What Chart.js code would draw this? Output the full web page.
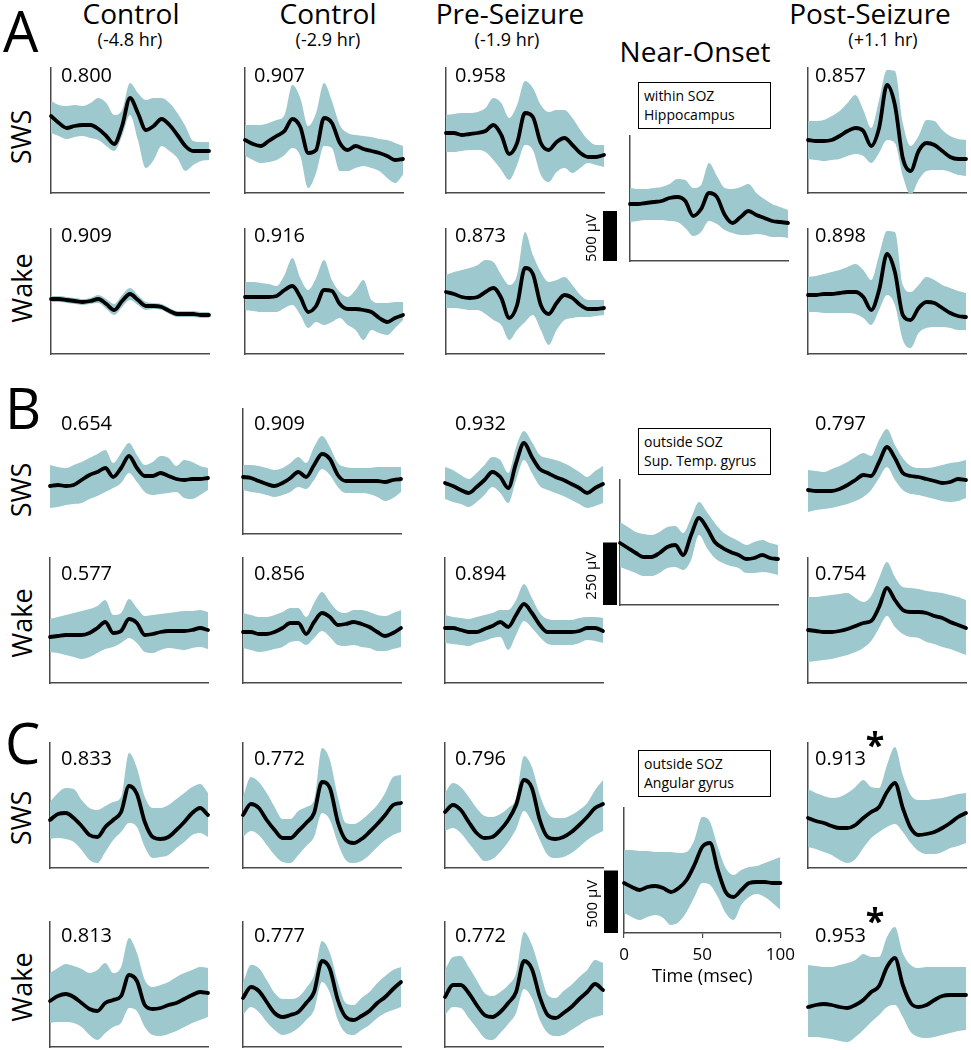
<!DOCTYPE html>
<html><head><meta charset="utf-8">
<script src="https://cdn.jsdelivr.net/npm/chart.js@4/dist/chart.umd.min.js"></script>
<style>
html,body{margin:0;padding:0;background:#fff;}
#fig{position:relative;width:971px;height:1050px;overflow:hidden;font-family:"Open Sans",sans-serif;color:#000;}
#fig canvas{position:absolute;}
.t{position:absolute;line-height:1;white-space:nowrap;}
.box{position:absolute;border:1.5px solid #000;box-sizing:border-box;background:#fff;}
</style></head><body><div id="fig"></div>
<script>
// ---------------- DATA ----------------
const TIME_MS = [0,5,10,15,20,25,30,35,40,45,50,55,60,65,70,75,80,85,90,95,100];

const COLUMN_TITLES = ['Control','Control','Pre-Seizure','Near-Onset','Post-Seizure'];
const COLUMN_SUBTITLES = ['(-4.8 hr)','(-2.9 hr)','(-1.9 hr)','','(+1.1 hr)'];
const SECTION_LETTERS = ['A','B','C'];
const ROW_LABELS = ['SWS','Wake'];
const ONSET_BOX_LINES = [['within SOZ','Hippocampus'],['outside SOZ','Sup. Temp. gyrus'],['outside SOZ','Angular gyrus']];
const SCALE_BAR_UV = [500,250,500];
const X_TICKS_MS = [0,50,100];
const X_AXIS_TITLE = 'Time (msec)';

const CORR_A_SWS  = ['0.800','0.907','0.958','0.857'];
const CORR_A_WAKE = ['0.909','0.916','0.873','0.898'];
const CORR_B_SWS  = ['0.654','0.909','0.932','0.797'];
const CORR_B_WAKE = ['0.577','0.856','0.894','0.754'];
const CORR_C_SWS  = ['0.833','0.772','0.796','0.913'];
const CORR_C_WAKE = ['0.813','0.777','0.772','0.953'];

// Section A (uV)
const A_SWS_1_MEAN = [770,700,650,670,680,680,640,570,490,670,950,800,630,670,740,680,580,470,420,420,420];
const A_SWS_1_HI   = [920,880,870,880,870,900,950,900,780,830,1100,1000,930,950,950,900,800,670,520,510,510];
const A_SWS_1_LO   = [600,570,540,560,570,550,530,470,420,570,780,530,250,330,470,420,350,220,280,320,330];
const A_SWS_2_MEAN = [530,490,470,520,570,620,740,660,400,430,750,700,500,430,470,440,420,400,370,330,340];
const A_SWS_2_HI   = [680,680,680,700,730,780,1080,950,670,800,1100,920,680,600,580,570,560,540,530,500,470];
const A_SWS_2_LO   = [370,330,300,310,330,380,450,370,50,200,470,450,220,220,250,270,250,220,150,100,180];
const A_SWS_3_MEAN = [600,600,580,590,600,620,680,580,390,500,800,760,500,430,510,550,480,400,360,360,380];
const A_SWS_3_HI   = [780,790,800,800,810,850,950,900,750,880,1120,1050,880,810,830,830,750,630,530,480,480];
const A_SWS_3_LO   = [410,410,420,430,430,410,330,230,130,280,480,430,180,110,210,250,200,250,300,280,260];
const A_ONSET_MEAN = [570,570,580,590,600,630,640,600,450,520,680,640,460,380,440,500,460,430,400,390,380];
const A_ONSET_HI   = [730,720,720,730,740,770,820,810,730,760,980,850,730,720,740,770,680,620,570,540,510];
const A_ONSET_LO   = [390,400,410,410,410,400,390,330,250,290,400,370,310,280,260,260,270,260,240,240,230];
const A_SWS_5_MEAN = [530,520,520,530,570,620,650,620,470,650,1080,880,350,220,420,500,480,420,360,340,340];
const A_SWS_5_HI   = [720,720,730,770,820,900,980,830,650,930,1230,1220,700,470,570,730,720,630,570,540,530];
const A_SWS_5_LO   = [340,330,320,330,340,370,390,370,300,400,530,500,170,-20,130,220,230,230,210,180,170];
const A_WAKE_1_MEAN = [550,550,540,530,520,530,550,500,440,530,600,540,480,480,470,430,400,400,400,390,390];
const A_WAKE_1_HI   = [580,580,570,560,550,560,590,550,500,590,660,590,520,510,500,460,430,430,430,420,420];
const A_WAKE_1_LO   = [520,520,510,500,490,500,510,450,390,470,540,490,440,450,440,400,370,370,370,360,360];
const A_WAKE_2_MEAN = [570,570,570,570,580,640,680,570,420,480,640,630,500,450,450,440,420,360,320,360,390];
const A_WAKE_2_HI   = [720,720,710,700,680,790,960,760,640,760,940,740,620,570,640,740,540,510,510,520,520];
const A_WAKE_2_LO   = [440,430,420,420,420,460,490,390,260,320,290,320,360,290,240,140,240,210,190,260,340];
const A_WAKE_3_MEAN = [620,600,570,560,570,620,660,560,360,490,860,800,490,400,510,590,560,490,450,450,460];
const A_WAKE_3_HI   = [790,820,840,860,890,940,920,790,690,790,1220,990,820,720,740,770,690,590,540,540,540];
const A_WAKE_3_LO   = [460,460,450,440,440,400,340,290,140,240,320,390,240,90,240,340,360,370,370,380,390];
const A_WAKE_5_MEAN = [590,590,600,600,610,620,620,570,440,640,1000,820,390,340,460,520,510,460,410,380,370];
const A_WAKE_5_HI   = [770,780,800,820,840,870,900,840,740,990,1230,1220,690,620,690,770,740,690,660,630,610];
const A_WAKE_5_LO   = [420,420,410,410,410,410,400,360,290,440,590,490,140,60,210,260,270,270,260,240,240];

// Section B (uV)
const B_SWS_1_MEAN = [192,196,192,196,216,236,248,264,228,264,312,264,232,232,244,232,220,216,220,220,224];
const B_SWS_1_HI   = [276,268,264,276,288,304,320,336,284,324,364,316,276,288,312,304,272,296,288,272,264];
const B_SWS_1_LO   = [104,108,116,120,124,140,152,168,184,204,244,208,168,156,160,164,168,144,140,156,176];
const B_SWS_2_MEAN = [228,224,212,200,192,204,224,248,228,276,320,300,236,212,212,212,212,212,208,216,220];
const B_SWS_2_HI   = [276,276,272,264,256,264,284,308,284,348,392,348,284,268,264,264,264,268,268,268,268];
const B_SWS_2_LO   = [176,168,164,156,148,156,168,188,180,216,260,236,188,164,164,164,160,148,132,144,168];
const B_SWS_3_MEAN = [204,192,176,164,188,216,248,228,184,284,364,308,260,244,228,216,200,184,164,184,200];
const B_SWS_3_HI   = [268,256,236,220,244,276,308,296,244,348,412,368,316,304,296,284,268,248,228,252,272];
const B_SWS_3_LO   = [140,128,120,108,128,156,188,164,124,216,296,244,192,176,164,152,136,120,104,112,124];
const B_ONSET_MEAN = [248,228,208,192,192,208,232,240,200,280,348,308,252,228,212,200,184,188,200,188,184];
const B_ONSET_HI   = [332,312,292,284,280,292,312,316,288,348,412,372,328,292,272,256,240,252,260,248,240];
const B_ONSET_LO   = [152,140,128,116,116,128,148,152,140,180,280,228,188,168,156,148,128,128,132,128,120];
const B_SWS_5_MEAN = [176,172,172,172,180,196,216,236,232,288,348,304,244,232,228,220,212,204,208,220,216];
const B_SWS_5_HI   = [256,252,248,260,272,288,308,324,312,376,420,356,304,272,264,264,268,276,284,288,296];
const B_SWS_5_LO   = [88,96,100,104,112,120,132,148,176,224,268,216,176,160,156,148,140,132,128,132,144];
const B_WAKE_1_MEAN = [184,188,192,192,192,200,220,244,200,208,256,240,192,196,204,208,208,208,212,220,212];
const B_WAKE_1_HI   = [256,264,272,280,288,296,308,332,272,280,336,300,268,272,276,280,284,288,288,292,284];
const B_WAKE_1_LO   = [124,120,112,104,96,104,120,136,144,160,180,160,124,120,132,140,136,132,140,144,136];
const B_WAKE_2_MEAN = [204,204,196,196,204,220,240,240,196,244,280,264,232,236,244,236,224,204,188,200,220];
const B_WAKE_2_HI   = [280,272,264,264,272,284,300,300,264,320,364,324,288,280,292,292,284,272,268,280,292];
const B_WAKE_2_LO   = [140,132,124,128,136,144,164,168,152,180,208,184,152,148,152,144,140,128,128,136,144];
const B_WAKE_3_MEAN = [220,220,212,204,204,216,228,244,224,272,316,280,232,204,204,204,204,208,220,220,208];
const B_WAKE_3_HI   = [272,264,260,256,264,272,280,292,292,332,396,340,280,256,252,252,252,260,264,264,260];
const B_WAKE_3_LO   = [160,156,152,148,160,168,180,184,132,192,248,220,184,156,152,152,152,160,172,168,160];
const B_WAKE_5_MEAN = [212,208,204,204,208,216,228,240,248,304,380,332,292,284,284,280,268,260,244,232,220];
const B_WAKE_5_HI   = [344,344,348,352,356,360,340,324,348,420,484,424,384,380,376,368,364,360,352,344,332];
const B_WAKE_5_LO   = [84,88,92,96,104,112,124,140,168,220,268,224,196,184,180,164,156,144,136,124,112];

// Section C (uV)
const C_SWS_1_MEAN = [384,432,440,400,336,264,248,328,384,448,656,592,368,248,232,248,304,368,440,480,424];
const C_SWS_1_HI   = [528,600,640,632,544,480,464,496,528,568,920,800,568,480,480,504,552,600,648,672,600];
const C_SWS_1_LO   = [232,240,232,208,144,64,40,128,224,288,360,328,168,80,88,104,160,208,264,280,248];
const C_SWS_2_MEAN = [424,512,480,384,304,240,240,296,360,440,688,640,368,224,200,232,288,352,424,504,520];
const C_SWS_2_HI   = [568,728,688,600,488,392,392,456,488,544,960,864,568,360,352,384,440,504,600,728,744];
const C_SWS_2_LO   = [248,296,264,184,104,48,40,104,176,248,440,384,200,64,40,56,104,168,224,264,288];
const C_SWS_3_MEAN = [448,504,464,368,280,240,248,304,384,504,704,640,384,248,232,248,288,344,408,480,512];
const C_SWS_3_HI   = [600,680,648,568,480,416,408,432,480,560,896,808,584,440,400,400,424,464,520,624,704];
const C_SWS_3_LO   = [296,320,280,200,120,56,72,128,208,312,456,368,224,104,80,88,120,168,224,264,296];
const C_ONSET_MEAN = [400,368,344,368,376,360,328,360,424,544,688,720,504,328,288,344,400,408,408,400,400];
const C_ONSET_HI   = [664,664,656,656,648,648,648,640,648,744,928,888,688,520,464,504,528,536,560,584,608];
const C_ONSET_LO   = [160,128,104,128,144,120,64,88,168,288,400,384,288,160,104,224,288,312,288,240,184];
const C_SWS_5_MEAN = [400,376,360,336,320,320,344,400,448,488,608,680,480,320,264,272,288,320,360,408,440];
const C_SWS_5_HI   = [632,600,576,560,568,600,648,704,648,640,824,968,744,584,544,544,552,560,576,592,600];
const C_SWS_5_LO   = [168,152,128,104,64,40,72,160,240,288,328,352,288,200,136,112,112,128,160,176,200];
const C_WAKE_1_MEAN = [368,408,424,400,352,304,288,352,376,408,576,528,336,304,312,336,352,384,416,440,432];
const C_WAKE_1_HI   = [592,632,664,648,624,592,616,672,592,640,872,752,536,480,496,520,560,592,616,640,632];
const C_WAKE_1_LO   = [192,200,200,192,160,96,56,112,160,192,312,288,160,96,88,104,128,160,192,216,240];
const C_WAKE_2_MEAN = [392,480,448,360,272,240,256,280,352,440,688,624,376,240,216,248,288,352,400,464,520];
const C_WAKE_2_HI   = [512,656,632,536,432,384,384,400,472,576,848,752,520,352,336,392,440,512,568,616,640];
const C_WAKE_2_LO   = [256,320,280,200,136,96,112,152,216,296,520,432,216,112,96,136,176,232,272,296,320];
const C_WAKE_3_MEAN = [400,496,496,432,336,256,240,280,352,440,688,624,400,256,232,272,320,384,440,504,456];
const C_WAKE_3_HI   = [616,720,728,640,536,432,408,440,496,592,920,816,616,416,392,448,496,560,616,696,672];
const C_WAKE_3_LO   = [256,320,312,232,152,72,56,112,184,272,464,392,216,112,88,96,136,176,216,240,256];
const C_WAKE_5_MEAN = [320,336,344,336,320,312,336,376,440,488,640,712,496,352,320,336,376,408,416,416,416];
const C_WAKE_5_HI   = [656,648,640,640,656,672,696,744,720,720,880,960,752,656,632,640,640,640,640,640,640];
const C_WAKE_5_LO   = [80,80,72,64,48,40,80,136,200,256,320,336,240,120,80,72,80,96,112,128,136];

// ---------------- LAYOUT ----------------
const fig = document.getElementById('fig');
const TEAL = '#9dc8cd';
const AXIS = '#4a4a4a';
const PANEL_W = 158, PANEL_H = 125;
const YMAX = {A:1250, B:500, C:1000};
Chart.defaults.font.family = '"Open Sans", sans-serif';

function pts(arr){ return TIME_MS.map((t,i)=>({x:t, y:arr[i]})); }

const scaleBarPlugin = {
  id:'scaleBar',
  afterDatasetsDraw(chart, args, o){
    if(!o || !o.value) return;
    const {ctx, chartArea} = chart;
    const y = chart.scales.y;
    const y0 = y.getPixelForValue(0), y1 = y.getPixelForValue(o.value);
    const x0 = chartArea.left - o.gap - o.width;
    ctx.save();
    ctx.fillStyle = '#000';
    ctx.fillRect(x0, y1, o.width, y0 - y1);
    ctx.translate(x0 - 11, (y0 + y1)/2 + 2);
    ctx.rotate(-Math.PI/2);
    ctx.font = '15px "Open Sans", sans-serif';
    ctx.textAlign = 'center'; ctx.textBaseline = 'middle';
    ctx.fillText(o.label, 0, 0);
    ctx.restore();
  }
};
Chart.register(scaleBarPlugin);

function makePanel(p){
  const onset = !!p.bar;
  const pad = onset ? {left:55, right:20, top:8, bottom:p.ticks?2:8} : {left:5, right:5, top:8, bottom:8};
  const extra = p.ticks ? 58 : 0;
  const cw = PANEL_W + pad.left + pad.right, ch = PANEL_H + pad.top + pad.bottom + extra;
  const cv = document.createElement('canvas');
  cv.width = cw; cv.height = ch;
  cv.style.width = cw + 'px'; cv.style.height = ch + 'px';
  cv.style.left = (p.x - pad.left) + 'px';
  cv.style.top = (p.b - PANEL_H - pad.top) + 'px';
  fig.appendChild(cv);
  const [mean, hi, lo] = p.d;
  const common = {pointRadius:0, pointHoverRadius:0, cubicInterpolationMode:'monotone', clip:false};
  const border = {display:true, color:AXIS, width:1.5};
  const xScale = p.ticks ? {
    type:'linear', min:0, max:100, display:true,
    grid:{display:true, drawOnChartArea:false, drawTicks:true, tickLength:5, color:AXIS, lineWidth:1.2},
    ticks:{display:true, autoSkip:false, maxRotation:0, color:'#000', font:{size:17}, padding:7,
      callback:(v)=> X_TICKS_MS.includes(v) ? String(v) : null, stepSize:50},
    title:{display:true, text:X_AXIS_TITLE, color:'#000', font:{size:18}, padding:{top:0, bottom:3}},
    border, afterFit(s){ s.height = 58; }
  } : {
    type:'linear', min:0, max:100, display:p.axes,
    grid:{display:false, drawTicks:false}, ticks:{display:false},
    border, afterFit(s){ s.height = 0; }
  };
  new Chart(cv, {
    type:'line',
    data:{datasets:[
      {...common, data:pts(mean), borderColor:'#000', borderWidth:3.8, fill:false, borderCapStyle:'round', borderJoinStyle:'round'},
      {...common, data:pts(hi), borderWidth:0, borderColor:'rgba(0,0,0,0)', backgroundColor:TEAL, fill:'+1'},
      {...common, data:pts(lo), borderWidth:0, borderColor:'rgba(0,0,0,0)', fill:false}
    ]},
    options:{
      responsive:false, animation:false, events:[], devicePixelRatio:1,
      layout:{padding:pad},
      plugins:{legend:{display:false}, tooltip:{enabled:false}, scaleBar: p.bar || {}},
      scales:{
        x: xScale,
        y: {min:0, max:YMAX[p.s], display:p.axes, grid:{display:false, drawTicks:false}, ticks:{display:false},
            border, afterFit(s){ s.width = 0; }}
      }
    }
  });
}

function text(str, x, cy, size, o={}){
  const d = document.createElement('div');
  d.className = 't';
  d.textContent = str;
  d.style.fontSize = size + 'px';
  if (o.bold) d.style.fontWeight = '700';
  if (o.rotate){
    d.style.left = x + 'px'; d.style.top = cy + 'px';
    d.style.transform = 'translate(-50%,-50%) rotate(-90deg)';
  } else {
    d.style.left = x + 'px'; d.style.top = (cy - size/2) + 'px';
    if (o.center) d.style.transform = 'translateX(-50%)';
  }
  fig.appendChild(d);
  return d;
}

const X_A = [51,245,446,808], X_BC = [50,243,445,808];
const PANELS = [
  {s:'A', x:X_A[0], b:193, axes:true, d:[A_SWS_1_MEAN,A_SWS_1_HI,A_SWS_1_LO]},
  {s:'A', x:X_A[1], b:193, axes:true, d:[A_SWS_2_MEAN,A_SWS_2_HI,A_SWS_2_LO]},
  {s:'A', x:X_A[2], b:193, axes:true, d:[A_SWS_3_MEAN,A_SWS_3_HI,A_SWS_3_LO]},
  {s:'A', x:X_A[3], b:193, axes:true, d:[A_SWS_5_MEAN,A_SWS_5_HI,A_SWS_5_LO]},
  {s:'A', x:X_A[0], b:354, axes:true, d:[A_WAKE_1_MEAN,A_WAKE_1_HI,A_WAKE_1_LO]},
  {s:'A', x:X_A[1], b:354, axes:true, d:[A_WAKE_2_MEAN,A_WAKE_2_HI,A_WAKE_2_LO]},
  {s:'A', x:X_A[2], b:354, axes:true, d:[A_WAKE_3_MEAN,A_WAKE_3_HI,A_WAKE_3_LO]},
  {s:'A', x:X_A[3], b:354, axes:true, d:[A_WAKE_5_MEAN,A_WAKE_5_HI,A_WAKE_5_LO]},
  {s:'A', x:630, b:261, axes:true, d:[A_ONSET_MEAN,A_ONSET_HI,A_ONSET_LO], bar:{value:SCALE_BAR_UV[0], label:SCALE_BAR_UV[0]+' µV', gap:13, width:14}},

  {s:'B', x:X_BC[0], b:534, axes:false, d:[B_SWS_1_MEAN,B_SWS_1_HI,B_SWS_1_LO]},
  {s:'B', x:X_BC[1], b:534, axes:true,  d:[B_SWS_2_MEAN,B_SWS_2_HI,B_SWS_2_LO]},
  {s:'B', x:X_BC[2], b:534, axes:false, d:[B_SWS_3_MEAN,B_SWS_3_HI,B_SWS_3_LO]},
  {s:'B', x:X_BC[3], b:534, axes:false, d:[B_SWS_5_MEAN,B_SWS_5_HI,B_SWS_5_LO]},
  {s:'B', x:X_BC[0], b:683, axes:true, d:[B_WAKE_1_MEAN,B_WAKE_1_HI,B_WAKE_1_LO]},
  {s:'B', x:X_BC[1], b:683, axes:true, d:[B_WAKE_2_MEAN,B_WAKE_2_HI,B_WAKE_2_LO]},
  {s:'B', x:X_BC[2], b:683, axes:true, d:[B_WAKE_3_MEAN,B_WAKE_3_HI,B_WAKE_3_LO]},
  {s:'B', x:X_BC[3], b:683, axes:true, d:[B_WAKE_5_MEAN,B_WAKE_5_HI,B_WAKE_5_LO]},
  {s:'B', x:620, b:605, axes:true, d:[B_ONSET_MEAN,B_ONSET_HI,B_ONSET_LO], bar:{value:SCALE_BAR_UV[1], label:SCALE_BAR_UV[1]+' µV', gap:3, width:14}},

  {s:'C', x:X_BC[0], b:868, axes:true, d:[C_SWS_1_MEAN,C_SWS_1_HI,C_SWS_1_LO]},
  {s:'C', x:X_BC[1], b:868, axes:true, d:[C_SWS_2_MEAN,C_SWS_2_HI,C_SWS_2_LO]},
  {s:'C', x:X_BC[2], b:868, axes:true, d:[C_SWS_3_MEAN,C_SWS_3_HI,C_SWS_3_LO]},
  {s:'C', x:X_BC[3], b:868, axes:true, d:[C_SWS_5_MEAN,C_SWS_5_HI,C_SWS_5_LO]},
  {s:'C', x:X_BC[0], b:1047, axes:true, d:[C_WAKE_1_MEAN,C_WAKE_1_HI,C_WAKE_1_LO]},
  {s:'C', x:X_BC[1], b:1047, axes:true, d:[C_WAKE_2_MEAN,C_WAKE_2_HI,C_WAKE_2_LO]},
  {s:'C', x:X_BC[2], b:1047, axes:true, d:[C_WAKE_3_MEAN,C_WAKE_3_HI,C_WAKE_3_LO]},
  {s:'C', x:X_BC[3], b:1047, axes:false, d:[C_WAKE_5_MEAN,C_WAKE_5_HI,C_WAKE_5_LO]},
  {s:'C', x:624, b:933, axes:true, ticks:true, d:[C_ONSET_MEAN,C_ONSET_HI,C_ONSET_LO], bar:{value:SCALE_BAR_UV[2], label:SCALE_BAR_UV[2]+' µV', gap:6, width:14}}
];
PANELS.forEach(makePanel);

// Column headers
const TITLE_POS = [[131,13],[328,13],[510,13],[695,51],[870,13]];
const SUB_POS = [[130,39],[328,39],[507,39],null,[883,39]];
COLUMN_TITLES.forEach((t,i)=> text(t, TITLE_POS[i][0], TITLE_POS[i][1], 28, {center:true}));
COLUMN_SUBTITLES.forEach((t,i)=> { if (t) text(t, SUB_POS[i][0], SUB_POS[i][1], 18, {center:true}); });

// Section letters
const LETTER_POS = [[3,30],[5,407],[5,742]];
SECTION_LETTERS.forEach((l,i)=> text(l, LETTER_POS[i][0], LETTER_POS[i][1], 56));

// Row labels
const ROW_CY = [[137,288],[490,623],[818,987]];
ROW_CY.forEach(r=>{ text(ROW_LABELS[0], 20, r[0], 27, {rotate:true}); text(ROW_LABELS[1], 21, r[1], 27, {rotate:true}); });

// Correlation values
const CORR_X = [61,254,455,815];
const CORR_ROWS = [[CORR_A_SWS,75],[CORR_A_WAKE,235],[CORR_B_SWS,423],[CORR_B_WAKE,573],[CORR_C_SWS,758],[CORR_C_WAKE,935]];
CORR_ROWS.forEach(([vals,cy])=> vals.forEach((v,i)=> text(v, CORR_X[i], cy, 20)));

// Onset boxes
const BOX_TOP = [82,428,750];
ONSET_BOX_LINES.forEach((lines,i)=>{
  const b = document.createElement('div');
  b.className = 'box';
  b.style.left = '638px'; b.style.top = BOX_TOP[i] + 'px';
  b.style.width = '133px'; b.style.height = '47px';
  fig.appendChild(b);
  text(lines[0], 644, BOX_TOP[i] + 14, 14);
  text(lines[1], 644, BOX_TOP[i] + 33, 14);
});

// Significance asterisks
text('*', 875, 744, 34, {center:true, bold:true});
text('*', 875, 920, 34, {center:true, bold:true});
</script></body></html>
